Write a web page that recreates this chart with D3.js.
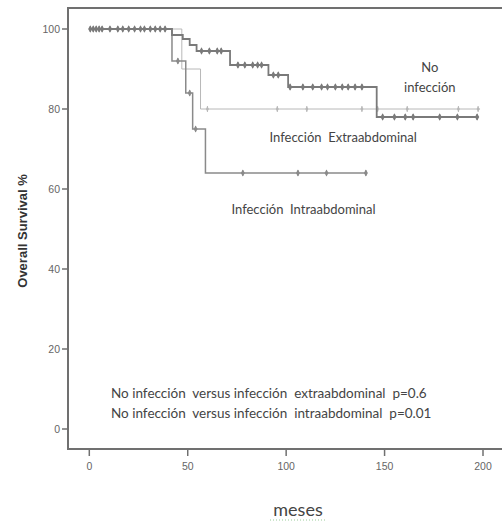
<!DOCTYPE html>
<html>
<head>
<meta charset="utf-8">
<script src="https://cdn.jsdelivr.net/npm/d3@7"></script>
<style>
  body { margin: 0; background: #fff; }
  svg { display: block; }
</style>
</head>
<body>
<svg id="chart" width="502" height="522"></svg>
<script>
// Kaplan-Meier step points (meses, % survival)
const noInfTimes = [0, 42, 47.5, 51, 54.5, 71.5, 91, 101, 146, 197.5];
const noInfSurv = [100, 98.5, 97.5, 96, 94.5, 91, 88.5, 85.5, 78, 78];
const noInfCensor = [0.5, 2, 3.5, 5, 6.5, 10.5, 14.5, 17, 20, 23, 26, 28, 31, 33.5, 36, 38.5,
  57, 61, 65, 67, 75.5, 79, 83, 85.5, 87.5, 93.5, 96,
  102, 108.5, 113.5, 118, 121, 125, 128.5, 131.5, 135, 138.5,
  149, 155, 160.5, 164.5, 178, 187, 197];

const extraTimes = [0, 47, 56.5, 198.5];
const extraSurv = [100, 90, 80, 80];
const extraCensor = [60, 95.5, 110.5, 138.5, 146.5, 161.5, 187.5, 197.5];

const intraTimes = [0, 42, 49, 52.5, 59, 141];
const intraSurv = [100, 92, 84, 75, 64, 64];
const intraCensor = [45, 51, 54, 78, 106, 120.5, 140.5];

const xTicks = [0, 50, 100, 150, 200];
const yTicks = [0, 20, 40, 60, 80, 100];

const NB = '\u00A0';
const groupLabels = [
  { lines: ['No', 'infección'], t: 173, v: 89.25 },
  { lines: ['Infección' + NB + NB + 'Extraabdominal'], t: 129, v: 71.75 },
  { lines: ['Infección' + NB + NB + 'Intraabdominal'], t: 108.8, v: 53.75 }
];
const pValueLines = [
  'No infección  versus infección  extraabdominal  p=0.6',
  'No infección  versus infección  intraabdominal  p=0.01'
];

const svg = d3.select('#chart');

// scales
const x = d3.scaleLinear().domain([0, 200]).range([89.3, 483]);
const y = d3.scaleLinear().domain([0, 100]).range([429, 29]);

const frame = { left: 68, top: 8, right: 503, bottom: 449 };

// frame lines
svg.append('path')
  .attr('d', `M${frame.right},${frame.top}H${frame.left}V${frame.bottom}H${frame.right}`)
  .attr('fill', 'none')
  .attr('stroke', '#707070')
  .attr('stroke-width', 2);

// y axis ticks
const yAxis = svg.append('g').attr('font-family', 'Liberation Sans, Arial, sans-serif')
  .attr('font-size', 10.5).attr('fill', '#666');
yTicks.forEach(v => {
  yAxis.append('line')
    .attr('x1', frame.left - 6).attr('x2', frame.left)
    .attr('y1', y(v)).attr('y2', y(v))
    .attr('stroke', '#707070').attr('stroke-width', 1.5);
  yAxis.append('text')
    .attr('x', frame.left - 8).attr('y', y(v))
    .attr('dy', '0.35em').attr('text-anchor', 'end')
    .text(v);
});

// x axis ticks
const xAxis = svg.append('g').attr('font-family', 'Liberation Sans, Arial, sans-serif')
  .attr('font-size', 10.5).attr('fill', '#666');
xTicks.forEach(v => {
  xAxis.append('line')
    .attr('x1', x(v)).attr('x2', x(v))
    .attr('y1', frame.bottom).attr('y2', frame.bottom + 7)
    .attr('stroke', '#707070').attr('stroke-width', 1.5);
  xAxis.append('text')
    .attr('x', x(v)).attr('y', frame.bottom + 17)
    .attr('dy', '0.35em').attr('text-anchor', 'middle')
    .text(v);
});

// axis titles
svg.append('text')
  .attr('transform', `translate(27, 231) rotate(-90)`)
  .attr('text-anchor', 'middle')
  .attr('font-family', 'Liberation Sans, Arial, sans-serif')
  .attr('font-weight', 'bold').attr('font-size', 13)
  .attr('fill', '#333')
  .text('Overall Survival %');

svg.append('text')
  .attr('x', 298).attr('y', 516)
  .attr('text-anchor', 'middle')
  .attr('font-family', 'Lato, sans-serif')
  .attr('font-size', 18).attr('fill', '#444')
  .text('meses');
svg.append('line')
  .attr('x1', 270).attr('x2', 326).attr('y1', 520).attr('y2', 520)
  .attr('stroke', '#9c9').attr('stroke-width', 1).attr('stroke-dasharray', '1,2');

// survival step curves
const line = d3.line().curve(d3.curveStepAfter).x(d => x(d[0])).y(d => y(d[1]));

function stepValue(times, surv, t) {
  let v = surv[0];
  times.forEach((tt, i) => { if (tt <= t) v = surv[i]; });
  return v;
}

function drawCurve(times, surv, censor, color, width, markSize) {
  const g = svg.append('g');
  g.append('path')
    .datum(d3.zip(times, surv))
    .attr('d', line)
    .attr('fill', 'none')
    .attr('stroke', color)
    .attr('stroke-width', width);
  const sym = d3.symbol().type(d3.symbolDiamond).size(markSize);
  censor.forEach(t => {
    const cx = x(t), cy = y(stepValue(times, surv, t));
    g.append('line')
      .attr('x1', cx).attr('x2', cx).attr('y1', cy - 3).attr('y2', cy + 3)
      .attr('stroke', color).attr('stroke-width', 1);
    g.append('path')
      .attr('d', sym)
      .attr('transform', `translate(${cx},${cy})`)
      .attr('fill', color);
  });
}

drawCurve(extraTimes, extraSurv, extraCensor, '#b8b8b8', 1, 8);
drawCurve(intraTimes, intraSurv, intraCensor, '#8a8a8a', 1.5, 14);
drawCurve(noInfTimes, noInfSurv, noInfCensor, '#7a7a7a', 1.8, 16);

// group labels
groupLabels.forEach(l => {
  const t = svg.append('text')
    .attr('text-anchor', 'middle')
    .attr('font-family', 'Lato, sans-serif')
    .attr('font-size', 13).attr('fill', '#444');
  l.lines.forEach((s, i) => {
    t.append('tspan')
      .attr('x', x(l.t)).attr('y', y(l.v) + i * 20)
      .text(s);
  });
});

// p values (double spaces kept as non-breaking)
pValueLines.forEach((s, i) => {
  svg.append('text')
    .attr('x', 111).attr('y', 398 + i * 20)
    .attr('font-family', 'Lato, sans-serif')
    .attr('font-size', 13.5).attr('fill', '#444')
    .text(s.replace(/  /g, ' ' + NB));
});
</script>
</body>
</html>
